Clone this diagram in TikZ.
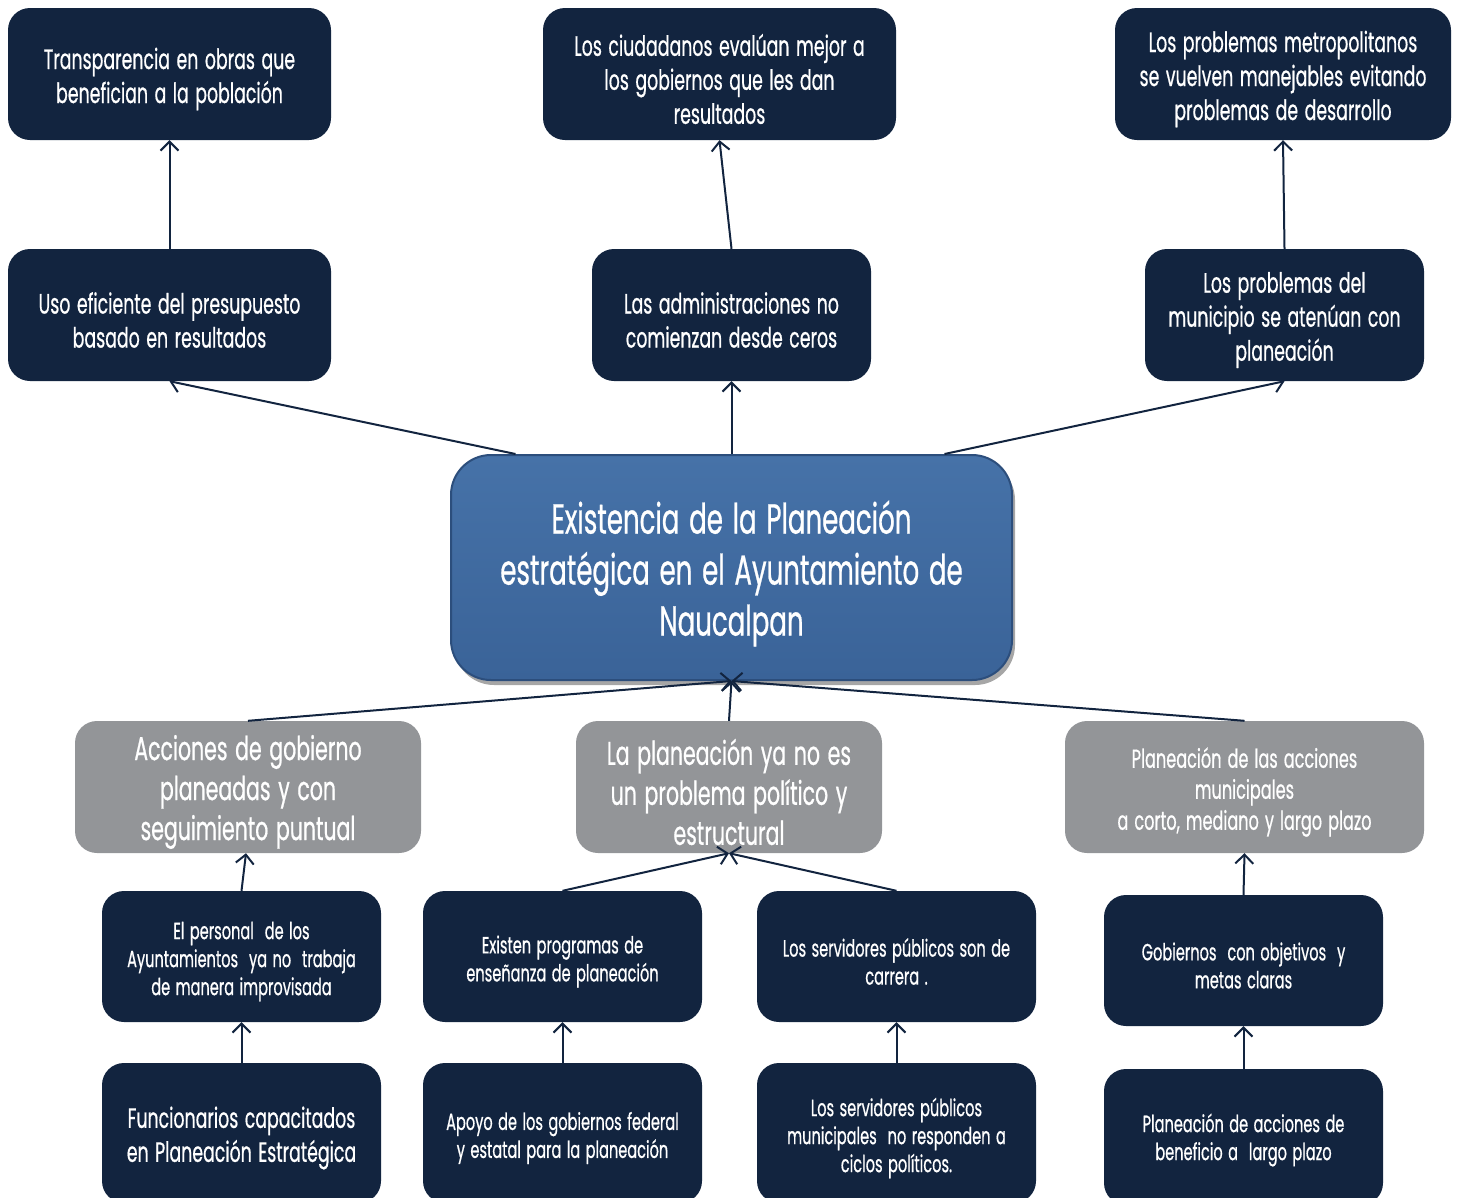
\documentclass[tikz,border=0pt]{standalone}
\usepackage{fontspec}
\setmainfont{Poppins}[FakeStretch=0.62,FakeBold=0.6,WordSpace=1.4]
\usetikzlibrary{arrows.meta,shadows}
\definecolor{navy}{HTML}{12243F}
\definecolor{greybox}{HTML}{939598}
\definecolor{bluetop}{HTML}{4672A8}
\definecolor{bluebot}{HTML}{3A6398}
\definecolor{blueedge}{HTML}{2C4E7C}
\tikzset{
  x=1pt,y=-1pt,
  navybox/.style={fill=navy,rounded corners=22pt,inner sep=0pt},
  greyboxs/.style={fill=greybox,rounded corners=22pt,inner sep=0pt},
  centerbox/.style={top color=bluetop,bottom color=bluebot,draw=blueedge,line width=2pt,rounded corners=40pt,inner sep=0pt,
     drop shadow={shadow xshift=3pt,shadow yshift=-5pt,opacity=0.35,fill=black}},
  boxtext/.style={text=white,align=center,inner sep=0pt},
  conn/.style={draw=navy,line width=2pt,-{Straight Barb[length=9pt,width=18pt,line width=2pt]}},
}
\newcommand{\fs}[2]{\fontsize{#1}{#2}\selectfont}
% \boxnode{style}{name}{x,y}{width}{height}{font}{text}
\newcommand{\boxnode}[7]{%
  \node[#1,minimum width=#4,minimum height=#5] (#2) at (#3) {};
  \node[boxtext,font=#6] (#2-t) at ([yshift=-5pt]#2.center) {#7};}
\begin{document}
\begin{tikzpicture}
\useasboundingbox (0,0) rectangle (1458,1197);
% row 1
\boxnode{navybox}{A1}{169.5,74}{323pt}{132pt}{\fs{28}{34}}{Transparencia en obras que\\benefician a la población}
\boxnode{navybox}{A2}{719.5,74}{353pt}{132pt}{\fs{28}{34}}{Los ciudadanos evalúan mejor a\\los gobiernos que les dan\\resultados}
\boxnode{navybox}{A3}{1283,74}{336pt}{132pt}{\fs{28}{34}}{Los problemas metropolitanos\\se vuelven manejables evitando\\problemas de desarrollo}
% row 2
\boxnode{navybox}{B1}{169.5,315}{323pt}{132pt}{\fs{28}{34}}{Uso eficiente del presupuesto\\basado en resultados}
\boxnode{navybox}{B2}{731.5,315}{279pt}{132pt}{\fs{28}{34}}{Las administraciones no\\comienzan desde ceros}
\boxnode{navybox}{B3}{1284.5,315}{279pt}{132pt}{\fs{28}{34}}{Los problemas del\\municipio se atenúan con\\planeación}
% center
\node[centerbox,minimum width=561pt,minimum height=225pt] (C) at (731.5,567.5) {};
\node[boxtext,font=\fs{42}{51}] (C-t) at ([yshift=-6pt]C.center) {Existencia de la Planeación\\estratégica en el Ayuntamiento de\\Naucalpan};
% row 3
\boxnode{greyboxs}{G1}{248,787}{346pt}{132pt}{\fs{33}{40}}{Acciones de gobierno\\planeadas y con\\seguimiento puntual}
\boxnode{greyboxs}{G2}{729,787}{306pt}{132pt}{\fs{33}{40}}{La planeación ya no es\\un problema político y\\estructural}
\boxnode{greyboxs}{G3}{1244.5,787}{359pt}{132pt}{\fs{26}{31}}{Planeación de las acciones\\municipales\\a corto, mediano y largo plazo}
% row 4
\boxnode{navybox}{D1}{241.5,956.5}{279pt}{131pt}{\fs{23.5}{28}}{El personal~ de los\\Ayuntamientos~ ya no~ trabaja\\de manera improvisada}
\boxnode{navybox}{D2}{562.5,956.5}{279pt}{131pt}{\fs{23.5}{28}}{Existen programas de\\enseñanza de planeación}
\boxnode{navybox}{D3}{896.5,956.5}{279pt}{131pt}{\fs{23.5}{28}}{Los servidores públicos son de\\carrera .}
\boxnode{navybox}{D4}{1243.5,960.5}{279pt}{131pt}{\fs{23.5}{28}}{Gobiernos~ con objetivos~ y\\metas claras}
% row 5
\boxnode{navybox}{E1}{241.5,1133}{279pt}{140pt}{\fs{28}{34}}{Funcionarios capacitados\\en Planeación Estratégica}
\boxnode{navybox}{E2}{562.5,1133}{279pt}{140pt}{\fs{23.5}{28}}{Apoyo de los gobiernos federal\\y estatal para la planeación}
\boxnode{navybox}{E3}{896.5,1133}{279pt}{140pt}{\fs{23.5}{28}}{Los servidores públicos\\municipales~ no responden a\\ciclos políticos.}
\node[navybox,minimum width=279pt,minimum height=136pt] (E4) at (1243.5,1137) {};
\node[boxtext,font=\fs{23.5}{28}] (E4-t) at ([yshift=-3pt]E4.center) {Planeación de acciones de\\beneficio a~ largo plazo};
% connectors
\draw[conn] (B1.north) -- (A1.south);
\draw[conn] (B2.north) -- (A2.south);
\draw[conn] (B3.north) -- (A3.south);
\draw[conn] ([xshift=-216pt]C.north) -- (B1.south);
\draw[conn] (C.north) -- (B2.south);
\draw[conn] ([xshift=213pt]C.north) -- (B3.south);
\draw[conn] (G1.north) -- (C.south);
\draw[conn] (G2.north) -- (C.south);
\draw[conn] (G3.north) -- (C.south);
\draw[conn] (D1.north) -- ([xshift=-2pt]G1.south);
\draw[conn] (D2.north) -- (G2.south);
\draw[conn] (D3.north) -- (G2.south);
\draw[conn] (D4.north) -- (G3.south);
\draw[conn] (E1.north) -- (D1.south);
\draw[conn] (E2.north) -- (D2.south);
\draw[conn] (E3.north) -- (D3.south);
\draw[conn] (E4.north) -- (D4.south);
\end{tikzpicture}
\end{document}
